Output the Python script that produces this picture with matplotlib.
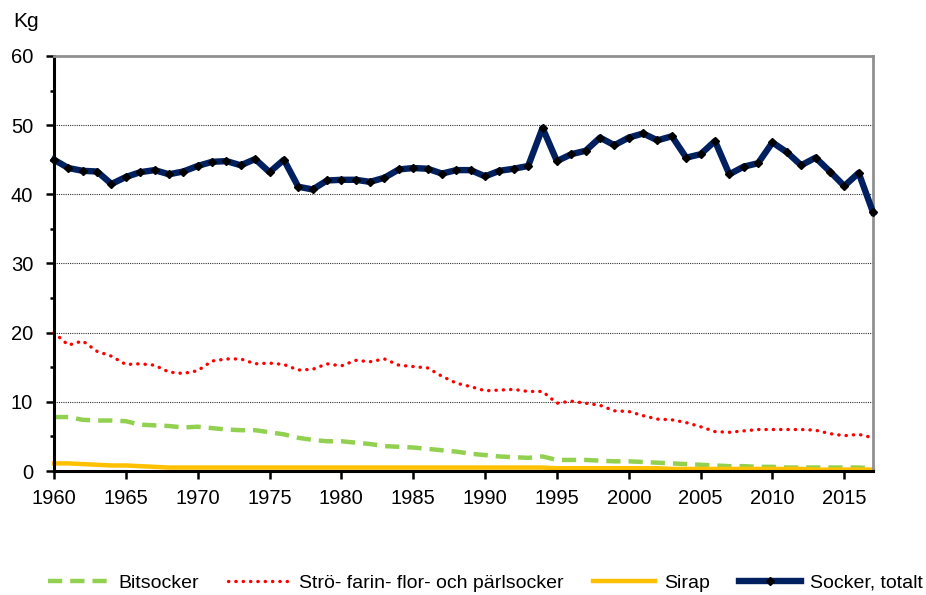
import numpy as np
import matplotlib
matplotlib.use('Agg')
import matplotlib.pyplot as plt

plt.rcParams['font.family'] = ['Liberation Sans', 'DejaVu Sans']

years = list(range(1960, 2018))

bitsocker = [7.8, 7.8, 7.4, 7.3, 7.3, 7.2, 6.7, 6.6, 6.5, 6.3,
             6.4, 6.2, 6.0, 5.9, 5.9, 5.6, 5.3, 4.8, 4.5, 4.3,
             4.3, 4.1, 3.9, 3.6, 3.5, 3.4, 3.2, 3.0, 2.8, 2.5,
             2.3, 2.1, 2.0, 1.9, 2.1, 1.6, 1.6, 1.6, 1.5, 1.4,
             1.4, 1.3, 1.2, 1.1, 1.0, 0.9, 0.8, 0.7, 0.7, 0.6,
             0.6, 0.5, 0.5, 0.5, 0.5, 0.5, 0.5, 0.4]

stro = [20.0, 18.2, 18.8, 17.3, 16.6, 15.4, 15.5, 15.3, 14.3, 14.1,
        14.5, 15.9, 16.2, 16.2, 15.5, 15.6, 15.4, 14.6, 14.7, 15.5,
        15.2, 16.0, 15.8, 16.2, 15.3, 15.1, 14.9, 13.7, 12.7, 12.2,
        11.6, 11.7, 11.8, 11.5, 11.5, 9.8, 10.1, 9.8, 9.5, 8.7,
        8.6, 8.0, 7.5, 7.4, 7.0, 6.4, 5.7, 5.6, 5.8, 6.0,
        6.0, 6.0, 6.0, 5.9, 5.4, 5.1, 5.3, 4.8]

sirap = [1.1, 1.1, 1.0, 0.9, 0.8, 0.8, 0.7, 0.6, 0.5, 0.5,
         0.5, 0.5, 0.5, 0.5, 0.5, 0.5, 0.5, 0.5, 0.5, 0.5,
         0.5, 0.5, 0.5, 0.5, 0.5, 0.5, 0.5, 0.5, 0.5, 0.5,
         0.5, 0.5, 0.5, 0.5, 0.5, 0.4, 0.4, 0.4, 0.4, 0.4,
         0.4, 0.4, 0.4, 0.3, 0.3, 0.3, 0.3, 0.3, 0.3, 0.3,
         0.3, 0.3, 0.3, 0.2, 0.2, 0.2, 0.2, 0.2]

totalt = [45.0, 43.8, 43.4, 43.3, 41.5, 42.5, 43.2, 43.5, 42.9, 43.3,
          44.1, 44.7, 44.8, 44.2, 45.1, 43.2, 45.0, 41.1, 40.7, 42.0,
          42.1, 42.1, 41.8, 42.4, 43.6, 43.8, 43.7, 43.0, 43.5, 43.5,
          42.6, 43.4, 43.7, 44.1, 49.6, 44.8, 45.8, 46.3, 48.2, 47.1,
          48.2, 48.8, 47.8, 48.4, 45.3, 45.8, 47.7, 42.9, 44.0, 44.5,
          47.5, 46.1, 44.2, 45.3, 43.3, 41.2, 43.1, 37.4]

fig = plt.figure(figsize=(9.26, 5.95), dpi=100)
ax = fig.add_axes([0.0583, 0.2084, 0.8845, 0.6975])

ax.plot(years, bitsocker, color='#92D050', lw=3.2, ls=(0, (3.2, 1.8)), label='Bitsocker',
        clip_on=False)
ax.plot(years, stro, color='#FF0000', lw=2.4, ls=(0, (0.1, 2.1)), dash_capstyle='round',
        label='Strö- farin- flor- och pärlsocker', clip_on=False)
ax.plot(years, sirap, color='#FFC000', lw=3.2, label='Sirap', clip_on=False)
ax.plot(years, totalt, color='#002060', lw=4.6, marker='D', ms=4.5, mfc='black', mec='black',
        label='Socker, totalt', clip_on=False, zorder=5)

ax.set_xlim(1960, 2017)
ax.set_ylim(0, 60)
ax.set_xticks(range(1960, 2016, 5))
ax.set_yticks(range(0, 61, 10))
ax.set_yticks(range(0, 61, 5), minor=True)
ax.tick_params(axis='both', labelsize=14.5, direction='out', width=1.8, length=6)
ax.tick_params(axis='x', pad=7)
ax.tick_params(axis='y', pad=9)
ax.tick_params(axis='y', which='minor', direction='out', width=1.8, length=3)

for v in range(10, 60, 10):
    ax.axhline(v, color='#333333', lw=0.8, ls=(0, (1, 1)), zorder=0)

ax.spines['left'].set_linewidth(2.2)
ax.spines['bottom'].set_linewidth(2.2)
ax.spines['top'].set_color('#909090')
ax.spines['top'].set_linewidth(2)
ax.spines['right'].set_color('#909090')
ax.spines['right'].set_linewidth(2)

fig.text(0.014, 0.964, 'Kg', fontsize=15, ha='left', va='center')

fig.legend(loc='center', bbox_to_anchor=(0.524, 0.02), ncol=4, frameon=False,
           fontsize=14, handlelength=3.2, columnspacing=1.5, handletextpad=0.45,
           borderaxespad=0)

fig.savefig('out.png', dpi=100)
